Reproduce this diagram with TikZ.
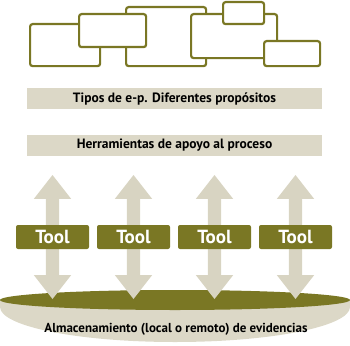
\documentclass[tikz,border=0pt]{standalone}
\usepackage{fontspec}
\setmainfont{PT Sans}
\usepackage{tikz}
\usetikzlibrary{shapes.arrows, positioning, calc}

\definecolor{epolive}{RGB}{122,119,36}
\definecolor{epbeige}{RGB}{220,216,199}
\definecolor{eparrow}{RGB}{216,212,194}

\begin{document}
\begin{tikzpicture}[
    x=1pt, y=-1pt,
    eptype/.style={rectangle, draw=epolive, fill=white, line width=2.2pt, rounded corners=0.5ex, anchor=north west, inner sep=0pt},
    epbar/.style={rectangle, fill=epbeige, minimum width=295pt, minimum height=21pt, inner sep=0pt, font=\bfseries\fontsize{13.5}{15}\selectfont},
    toolbox/.style={rectangle, fill=epolive, text=white, rounded corners=0.4ex, minimum width=73pt, minimum height=24pt, inner sep=0pt, font=\bfseries\fontsize{19}{21}\selectfont},
    flowarrow/.style={double arrow, fill=eparrow, shape border rotate=90, inner sep=6.5pt, double arrow head extend=12pt, double arrow tip angle=76, minimum height=124pt}
]
\useasboundingbox (0,0) rectangle (350,345);
% types of e-portfolio
\node (typeA) [eptype, minimum width=70pt, minimum height=42pt] at (29,23) {};
\node (typeC) [eptype, minimum width=80pt, minimum height=59pt] at (125,6) {};
\node (typeB) [eptype, minimum width=67pt, minimum height=33pt] at (78,13) {};
\node (typeD) [eptype, minimum width=86pt, minimum height=44pt] at (190,13) {};
\node (typeE) [eptype, minimum width=41pt, minimum height=22pt] at (222,1) {};
\node (typeF) [eptype, minimum width=56pt, minimum height=25pt] at (263,40) {};
% bars
\node (tipos) [epbar] at (174.5,98.5) {Tipos de e-p. Diferentes propósitos};
\node (herram) [epbar] at (174.5,145) {Herramientas de apoyo al proceso};
% storage
\fill[epbeige] (0,300) -- (0,307) arc[start angle=180, end angle=360, x radius=175pt, y radius=35pt] -- (350,300) -- cycle;
\fill[epolive] (175,300) ellipse [x radius=175pt, y radius=10pt];
\node (storage) [font=\bfseries\fontsize{13}{15}\selectfont] at (176,329) {Almacenamiento (local o remoto) de evidencias};
% tools
\foreach \i/\x in {1/52.5, 2/133.5, 3/214.5, 4/295.5} {
    \node (arrow\i) [flowarrow] at (\x,237) {};
    \node (tool\i) [toolbox] at (\x,237) {Tool};
}
\end{tikzpicture}
\end{document}
